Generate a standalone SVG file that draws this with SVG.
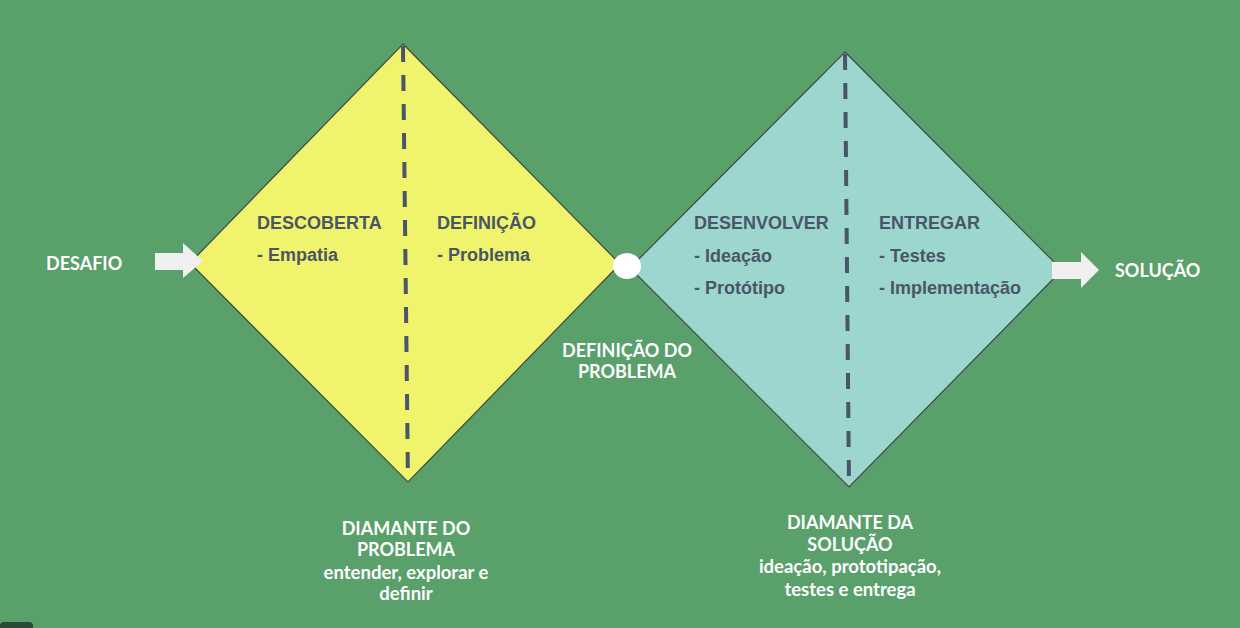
<svg xmlns="http://www.w3.org/2000/svg" width="1240" height="628" viewBox="0 0 1240 628">
<style>
.dia{stroke:#3d4a45;stroke-width:1.2}
.dash{stroke:#4a5568;stroke-width:4;stroke-dasharray:16 13;fill:none}
.in{font-family:"Liberation Sans",Arial,sans-serif;font-weight:bold;font-size:18px;fill:#4a5568}
.wt{font-family:Lato,"Liberation Sans",sans-serif;font-weight:bold;font-size:18px;fill:#ffffff}
.lc{font-size:18.5px}
.arrow{fill:#f0f0f0}
</style>
<rect width="1240" height="628" fill="#59a06b"/>
<rect x="0" y="622" width="33" height="12" rx="4" fill="#2b4a36"/>
<g id="diamond-problem">
<polygon class="dia" points="403,44 620,264 408,482 190,263" fill="#f0f46c"/>
<text class="in" x="257" y="229">DESCOBERTA</text>
<text class="in" x="257" y="261">- Empatia</text>
<text class="in" x="437" y="229">DEFINIÇÃO</text>
<text class="in" x="437" y="261">- Problema</text>
</g>
<g id="diamond-solution">
<polygon class="dia" points="845,52 1062,270 849,487 630,268" fill="#9dd5cf"/>
<text class="in" x="694" y="229">DESENVOLVER</text>
<text class="in" x="694" y="262">- Ideação</text>
<text class="in" x="694" y="294">- Protótipo</text>
<text class="in" x="879" y="229">ENTREGAR</text>
<text class="in" x="879" y="262">- Testes</text>
<text class="in" x="879" y="294">- Implementação</text>
</g>
<g id="connectors">
<line class="dash" x1="403" y1="46" x2="408" y2="482"/>
<line class="dash" x1="845" y1="54" x2="849" y2="487"/>
<polygon class="arrow" points="155,253 183,253 183,243 203,261 183,278 183,270 155,270"/>
<polygon class="arrow" points="1052,262 1081,262 1081,252 1099,270 1081,288 1081,279 1052,279"/>
</g>
<g id="midpoint">
<ellipse cx="627" cy="266" rx="14" ry="13" fill="#ffffff"/>
</g>
<g id="labels">
<text class="wt" x="46" y="270">DESAFIO</text>
<text class="wt" x="1115" y="277">SOLUÇÃO</text>
<text class="wt" x="627" y="357" text-anchor="middle">DEFINIÇÃO DO</text>
<text class="wt" x="627" y="378" text-anchor="middle">PROBLEMA</text>
<text class="wt" x="406" y="535" text-anchor="middle">DIAMANTE DO</text>
<text class="wt" x="406" y="556" text-anchor="middle">PROBLEMA</text>
<text class="wt lc" x="406" y="579" text-anchor="middle">entender, explorar e</text>
<text class="wt lc" x="406" y="600" text-anchor="middle">definir</text>
<text class="wt" x="850" y="529" text-anchor="middle">DIAMANTE DA</text>
<text class="wt" x="850" y="551" text-anchor="middle">SOLUÇÃO</text>
<text class="wt lc" x="850" y="573" text-anchor="middle">ideação, prototipação,</text>
<text class="wt lc" x="850" y="596" text-anchor="middle">testes e entrega</text>
</g>
</svg>
